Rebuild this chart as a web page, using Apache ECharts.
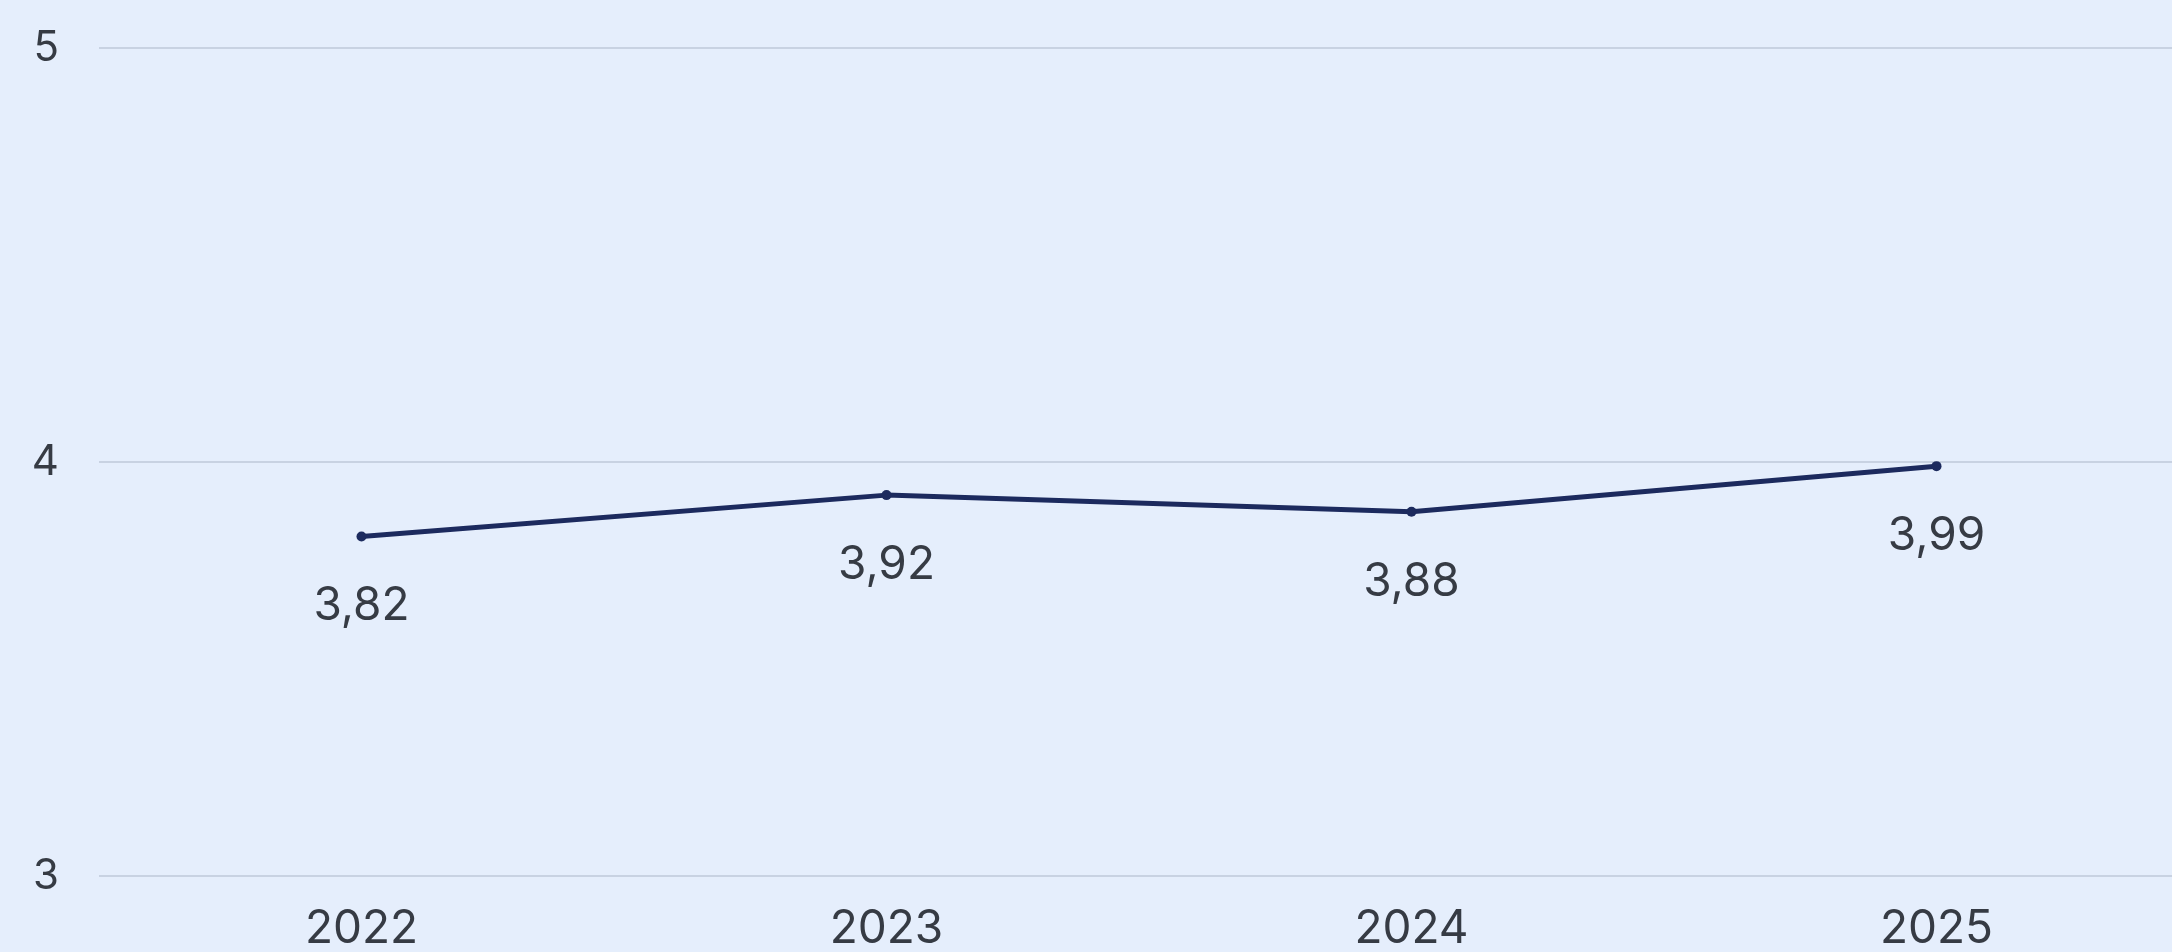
<!DOCTYPE html>
<html>
<head>
<meta charset="utf-8">
<title>chart</title>
<script src="https://cdn.jsdelivr.net/npm/echarts@6/dist/echarts.min.js"></script>
<style>
  html, body { margin: 0; padding: 0; background: #e5eefc; overflow: hidden; }
  /* the plot runs a little past the right edge of the window, like the source crop */
  #main { width: 2199px; height: 952px; }
</style>
</head>
<body>
<div id="main"></div>
<script>
var years = ['2022', '2023', '2024', '2025'];
var scores = [3.82, 3.92, 3.88, 3.99];
var yTicks = [3, 4, 5];

function showchart(){
    var myChart = echarts.init(document.querySelector('#main'));
    var option = {
        backgroundColor: '#e5eefc',
        textStyle: { fontFamily: 'Inter' },
        grid: {
            left: 99,
            right: 0,
            top: 48,
            bottom: 75
        },
        xAxis: {
            type: 'category',
            data: years,
            boundaryGap: true,
            axisLine: { show: false },
            axisTick: { show: false },
            axisLabel: {
                color: '#363b44',
                fontSize: 46,
                margin: 30
            }
        },
        yAxis: {
            type: 'value',
            min: yTicks[0],
            max: yTicks[yTicks.length - 1],
            interval: 1,
            axisLine: { show: false },
            axisTick: { show: false },
            axisLabel: {
                color: '#363b44',
                fontSize: 42,
                margin: 40
            },
            splitLine: {
                lineStyle: { color: '#c8d2e2', width: 2 }
            }
        },
        series: [
            {
                type: 'line',
                data: scores,
                color: '#1c2a5e',
                symbol: 'circle',
                symbolSize: 10,
                lineStyle: { width: 5, color: '#1c2a5e' },
                label: {
                    show: true,
                    position: 'bottom',
                    distance: 42,
                    color: '#363b44',
                    fontSize: 46,
                    formatter: function (p) {
                        return String(p.value).replace('.', ',');
                    }
                }
            }
        ]
    };
    myChart.setOption(option);
    window.addEventListener('resize', function () {
        myChart.resize();
    });
}

showchart();
</script>
</body>
</html>
